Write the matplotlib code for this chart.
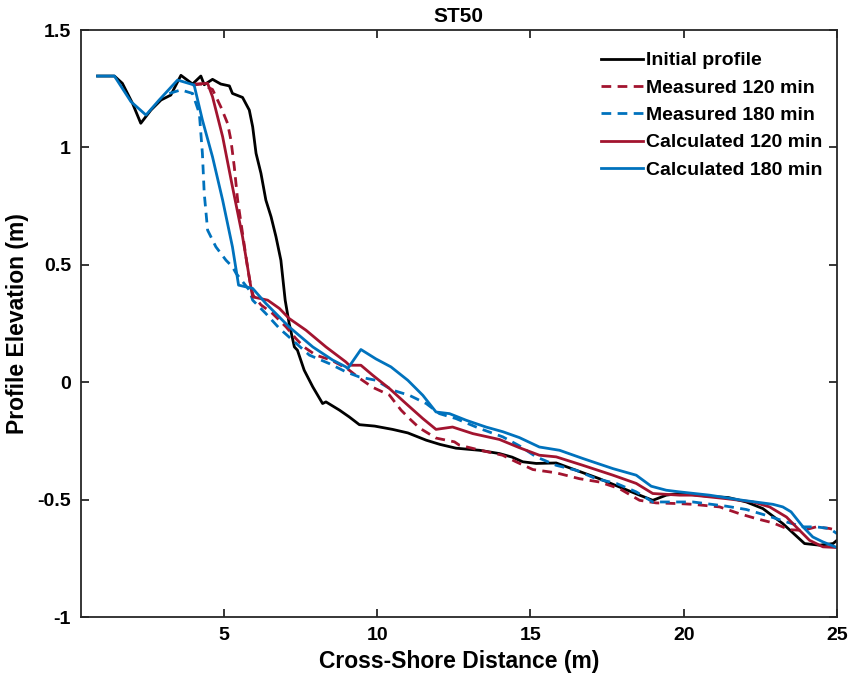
import matplotlib
matplotlib.use("Agg")
import matplotlib.pyplot as plt
from matplotlib.ticker import FormatStrFormatter

plt.rcParams['font.family'] = ['Liberation Sans', 'DejaVu Sans']
plt.rcParams['font.weight'] = 'bold'
plt.rcParams['axes.unicode_minus'] = False

# Initial profile
x_init = [0.88, 1.43, 1.69, 2.02, 2.29, 2.62, 2.95, 3.27, 3.6, 3.98, 4.25, 4.36, 4.63, 4.9, 5.18,
          5.28, 5.61, 5.83, 5.94, 6.05, 6.21, 6.37, 6.54, 6.7, 6.86, 7.0, 7.13, 7.3, 7.4, 7.62,
          7.9, 8.22, 8.33, 8.77, 9.09, 9.42, 9.92, 10.5, 11.0, 11.6, 12.05, 12.57, 13.34, 13.99,
          14.4, 14.75, 15.19, 15.84, 16.49, 17.25, 17.9, 18.56, 18.99, 19.43, 19.86, 20.84, 21.45,
          22.04, 22.58, 23.23, 23.94, 24.43, 24.87, 25.0]
y_init = [1.304, 1.304, 1.273, 1.188, 1.103, 1.159, 1.202, 1.223, 1.307, 1.27, 1.304, 1.267, 1.29,
          1.27, 1.262, 1.23, 1.213, 1.159, 1.088, 0.975, 0.89, 0.776, 0.705, 0.62, 0.52, 0.35,
          0.251, 0.151, 0.137, 0.052, -0.019, -0.09, -0.083, -0.118, -0.147, -0.18, -0.186, -0.2,
          -0.215, -0.246, -0.264, -0.28, -0.289, -0.303, -0.318, -0.338, -0.345, -0.343, -0.374,
          -0.41, -0.445, -0.48, -0.502, -0.48, -0.473, -0.485, -0.49, -0.509, -0.537, -0.601,
          -0.686, -0.693, -0.686, -0.672]

# Measured 120 min
x_m120 = [3.98, 4.25, 4.63, 4.9, 5.12, 5.23, 5.34, 5.45, 5.61, 5.77, 5.88, 5.96, 6.21, 6.59, 7.03,
          7.34, 7.61, 8.0, 8.5, 9.03, 9.42, 9.84, 10.4, 10.78, 11.1, 11.38, 11.92, 12.52, 12.68,
          13.34, 14.09, 14.53, 15.08, 15.84, 16.6, 17.25, 17.9, 18.56, 19.1, 19.86, 20.3, 21.17,
          21.82, 22.37, 22.91, 23.45, 23.89, 24.32, 24.76, 25.0]
y_m120 = [1.265, 1.27, 1.247, 1.173, 1.103, 1.032, 0.918, 0.776, 0.634, 0.492, 0.407, 0.37, 0.33,
          0.293, 0.236, 0.188, 0.151, 0.116, 0.095, 0.058, 0.018, -0.02, -0.054, -0.118, -0.16,
          -0.194, -0.237, -0.253, -0.267, -0.288, -0.31, -0.338, -0.371, -0.385, -0.41, -0.424,
          -0.452, -0.502, -0.513, -0.516, -0.519, -0.53, -0.559, -0.58, -0.598, -0.627, -0.63,
          -0.615, -0.622, -0.63]

# Measured 180 min
x_m180 = [3.22, 3.6, 3.98, 4.2, 4.3, 4.36, 4.47, 4.74, 5.07, 5.28, 5.4, 5.83, 5.94, 6.37, 6.81,
          7.24, 7.79, 8.44, 8.98, 9.42, 9.96, 10.5, 11.05, 11.6, 12.03, 12.57, 13.34, 14.1, 14.64,
          15.19, 15.84, 16.49, 17.14, 17.8, 18.45, 18.99, 19.75, 20.3, 21.39, 22.04, 22.69, 23.35,
          23.89, 24.32, 24.76, 25.0]
y_m180 = [1.23, 1.245, 1.23, 1.145, 0.975, 0.805, 0.648, 0.577, 0.52, 0.492, 0.464, 0.393, 0.35,
          0.293, 0.23, 0.18, 0.116, 0.08, 0.045, 0.023, 0.009, -0.033, -0.055, -0.09, -0.133,
          -0.154, -0.196, -0.232, -0.27, -0.317, -0.353, -0.374, -0.41, -0.43, -0.466, -0.509,
          -0.509, -0.509, -0.527, -0.541, -0.566, -0.594, -0.615, -0.615, -0.622, -0.644]

# Calculated 120 min
x_c120 = [4.09, 4.47, 4.63, 4.96, 5.28, 5.61, 5.88, 5.94, 6.43, 6.81, 7.13, 7.68, 8.33, 8.98, 9.09,
          9.47, 9.85, 10.4, 10.94, 11.49, 11.92, 12.46, 13.12, 13.99, 14.64, 15.29, 15.84, 16.71,
          17.69, 18.45, 18.99, 19.86, 20.3, 21.39, 22.26, 22.8, 23.35, 23.78, 24.1, 24.54, 25.0]
y_c120 = [1.27, 1.273, 1.216, 1.046, 0.833, 0.62, 0.407, 0.364, 0.35, 0.315, 0.272, 0.222, 0.151,
          0.087, 0.073, 0.073, 0.031, -0.026, -0.09, -0.154, -0.2, -0.19, -0.218, -0.243, -0.278,
          -0.31, -0.317, -0.353, -0.395, -0.43, -0.473, -0.48, -0.48, -0.495, -0.509, -0.53,
          -0.573, -0.63, -0.672, -0.7, -0.703]

# Calculated 180 min
x_c180 = [0.88, 1.43, 1.97, 2.46, 2.89, 3.49, 4.03, 4.3, 4.63, 4.96, 5.28, 5.48, 5.94, 6.37, 7.13,
          7.9, 8.55, 8.98, 9.04, 9.47, 9.96, 10.45, 11.0, 11.49, 11.92, 12.36, 12.9, 13.55, 14.1,
          14.64, 15.29, 15.95, 16.71, 17.69, 18.45, 18.94, 19.43, 19.86, 20.84, 21.93, 22.91,
          23.23, 23.5, 23.89, 24.21, 24.54, 25.0]
y_c180 = [1.304, 1.304, 1.195, 1.138, 1.202, 1.287, 1.266, 1.117, 0.96, 0.776, 0.577, 0.414, 0.4,
          0.336, 0.236, 0.151, 0.095, 0.066, 0.059, 0.14, 0.10, 0.066, 0.009, -0.055, -0.126,
          -0.133, -0.161, -0.19, -0.21, -0.235, -0.275, -0.289, -0.324, -0.367, -0.395, -0.442,
          -0.459, -0.466, -0.48, -0.502, -0.519, -0.53, -0.551, -0.615, -0.658, -0.679, -0.703]

RED = '#A2142F'
BLUE = '#0072BD'
LW = 2.0
DASH = (3.5, 2.3)

fig = plt.figure(figsize=(8.51, 6.85), dpi=100)
ax = fig.add_axes([0.0948, 0.0988, 0.8888, 0.8574])

ax.plot(x_init, y_init, color='black', lw=LW, label='Initial profile')
ax.plot(x_m120, y_m120, color=RED, lw=LW, dashes=DASH, label='Measured 120 min')
ax.plot(x_m180, y_m180, color=BLUE, lw=LW, dashes=DASH, label='Measured 180 min')
ax.plot(x_c120, y_c120, color=RED, lw=LW, label='Calculated 120 min')
ax.plot(x_c180, y_c180, color=BLUE, lw=LW, label='Calculated 180 min')

ax.set_xlim(0.33, 25)
ax.set_ylim(-1, 1.5)
ax.set_xticks([5, 10, 15, 20, 25])
ax.set_yticks([-1, -0.5, 0, 0.5, 1, 1.5])
ax.yaxis.set_major_formatter(FormatStrFormatter('%g'))
ax.tick_params(direction='in', length=6, width=1.3, top=True, right=True,
               labelsize=14, colors='#262626', pad=7)
for lab in ax.get_xticklabels() + ax.get_yticklabels():
    lab.set_fontweight('bold')
    lab.set_color('black')
for sp in ax.spines.values():
    sp.set_linewidth(1.3)
    sp.set_color('#262626')

ax.set_xlabel('Cross-Shore Distance (m)', fontsize=16.5, fontweight='bold', labelpad=4)
ax.set_ylabel('Profile Elevation (m)', fontsize=16.5, fontweight='bold', labelpad=6)
ax.set_title('ST50', fontsize=15, fontweight='bold', pad=6)

leg = ax.legend(loc='upper right', bbox_to_anchor=(0.991, 0.976), frameon=False,
                borderaxespad=0, handlelength=2.15, handletextpad=0.15, labelspacing=0.5,
                prop={'weight': 'bold', 'size': 14})

fig.savefig('out.png', dpi=100)
